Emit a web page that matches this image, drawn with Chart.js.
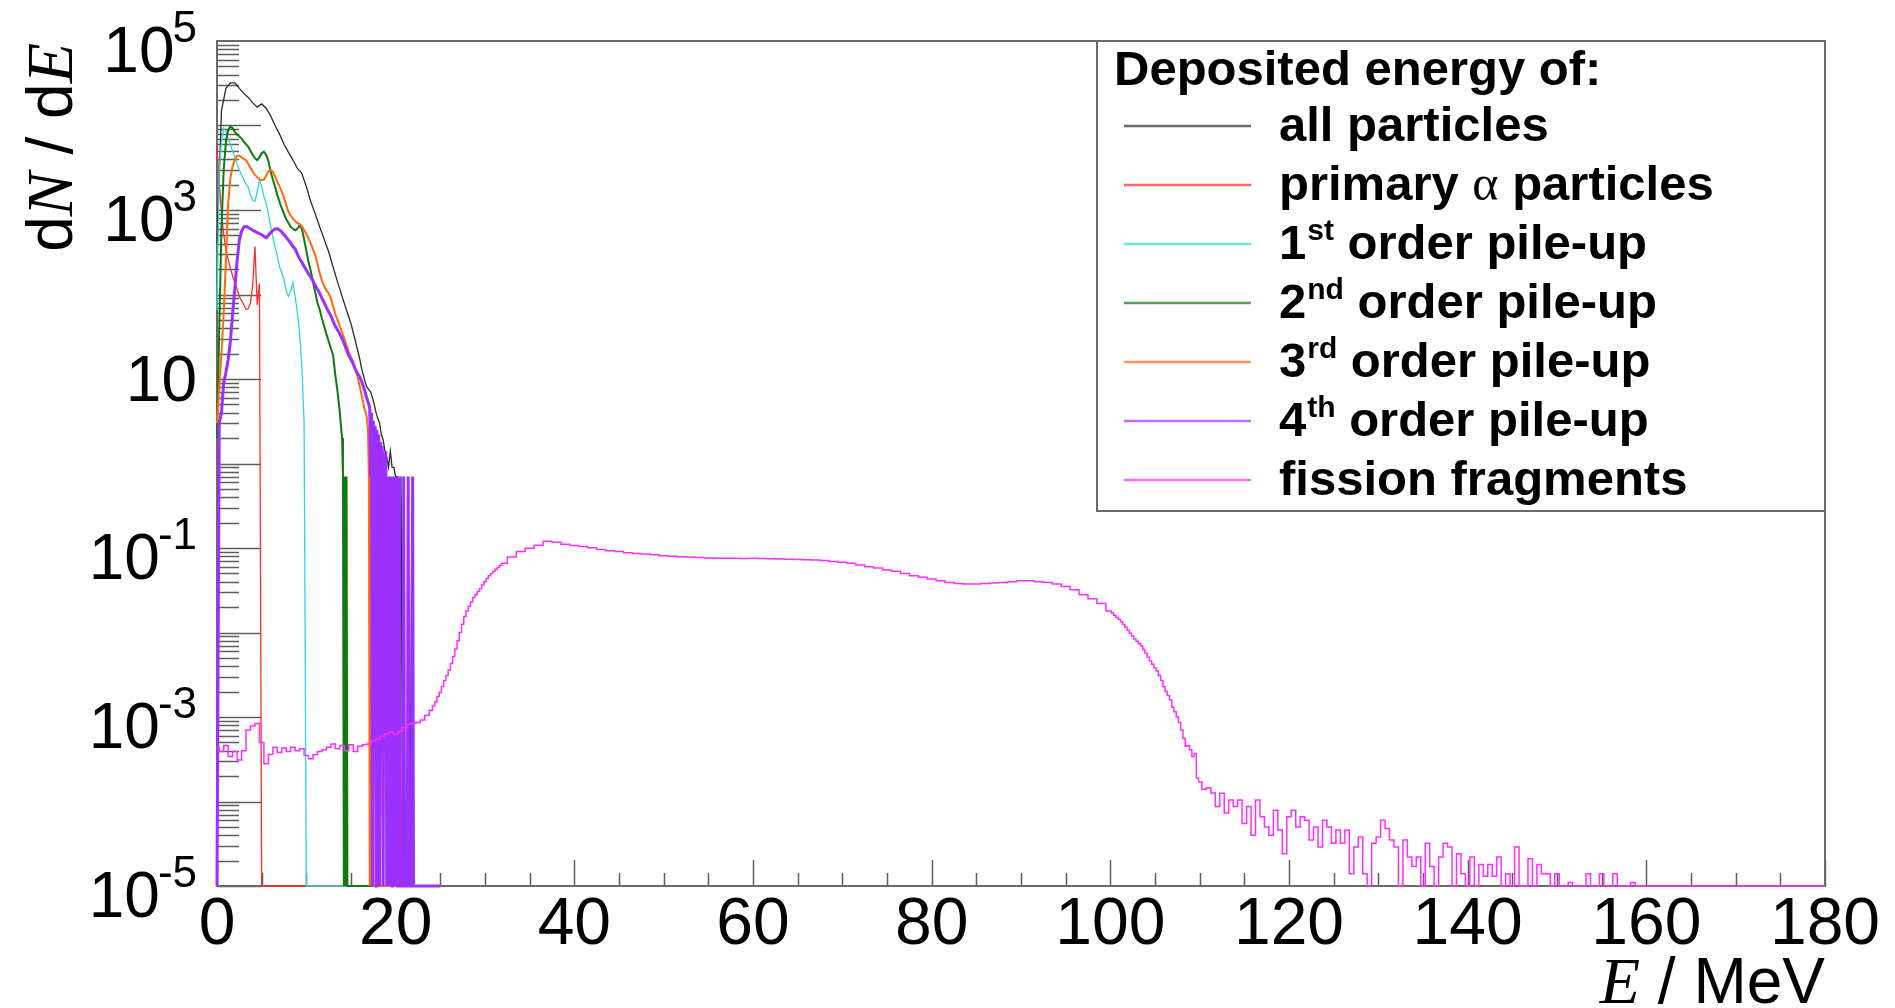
<!DOCTYPE html>
<html>
<head>
<meta charset="utf-8">
<script src="https://cdn.jsdelivr.net/npm/chart.js@4.4.1/dist/chart.umd.min.js"></script>
<style>
  html, body { margin: 0; padding: 0; background: #fff; }
  canvas { display: block; }
</style>
</head>
<body>
<canvas id="spectrum" width="1895" height="1008"></canvas>
<script>
const Y_MIN = 1e-5;
const Y_MAX = 1e5;
const E_MAX = 180;
const alphaRangeEnd = 25;   // MeV, upper end of the alpha histograms
const xTickStep = 20;
const xMinorStep = 5;
const yLabelPowers = [5, 3, 1, -1, -3, -5];

const seriesNames = [
  "all particles",
  "primary α particles",
  "1st order pile-up",
  "2nd order pile-up",
  "3rd order pile-up",
  "4th order pile-up",
  "fission fragments",
];
const seriesColors = ["#2b2b2b", "#ff2b2b", "#33d6d6", "#0f7a0f", "#ff6a10", "#9b30ff", "#ff2eff"];
const seriesWidths = [1.3, 1.3, 1.3, 2, 2, 3, 1.5];

// all particles: 0-16 MeV every 0.5 MeV, then 16.2-22.4 every 0.2 MeV
const allMain = [400, 15000, 27500, 32000, 32000, 27500, 24000, 21500, 18500, 16500,
  18000, 16000, 13000, 10000, 7900, 6000, 4800, 3900, 3100, 2700,
  1900, 1250, 900, 630, 450, 320, 210, 140, 95, 65, 45, 28, 17];
const allTail = [13, 11, 9, 8, 7.5, 7, 6, 5, 4, 3.4, 3.0, 2.2, 1.9, 1.4, 1.2, 0.9,
  1.4, 0.9, 0.9, 0.7, 0.7, 0, 0.7, 0, 0, 0, 0, 0, 0.2, 0, 0, 0];

// primary alphas: 0-5 MeV every 0.25 MeV
const alphaMain = [5600, 2200, 910, 520, 335, 260, 205, 165, 140, 115, 94,
  85, 75, 66, 68, 80, 130, 370, 75, 135, 0];

// 1st order pile-up: 0-10 MeV every 0.25 MeV
const pile1Main = [66, 3000, 6500, 9300, 8500, 7000, 5800, 5000, 4200, 3500,
  3000, 2600, 2300, 2050, 1850, 1500, 1300, 1260, 1650, 2260,
  1900, 1450, 1200, 900, 650, 480, 360, 290, 213, 180,
  150, 110, 95, 110, 138, 95, 60, 35, 14, 3, 0];

// 2nd order pile-up: 0-14 MeV every 0.25 MeV, then 14.1-14.7 every 0.1 MeV
const pile2Main = [2, 40, 600, 3000, 6500, 8800, 9800, 9300, 8400, 7800,
  7400, 7000, 6500, 6000, 5600, 5000, 4500, 4100, 3900, 4200,
  4700, 4900, 4500, 3800, 2900, 2300, 1900, 1500, 1250, 1050,
  900, 780, 700, 630, 600, 575, 600, 660, 600, 450,
  330, 240, 190, 140, 105, 80, 66, 52, 42, 34,
  28, 23, 19, 11, 7, 4, 2];
const pile2Tail = [0.7, 0, 0.7, 0, 0.7, 0, 0];

// 3rd order pile-up: 0-16.75 MeV every 0.25 MeV, then 16.9-17.6 every 0.1 MeV
const pile3Main = [3, 8, 20, 60, 250, 1200, 2400, 3300, 4000, 4400,
  4400, 4200, 4000, 3900, 3500, 3150, 2850, 2600, 2450, 2300,
  2250, 2300, 2550, 2850, 2970, 2850, 2500, 2150, 1900, 1650,
  1400, 1150, 950, 860, 790, 740, 700, 680, 640, 580,
  520, 460, 400, 340, 290, 230, 180, 145, 125, 112,
  103, 90, 72, 58, 50, 42, 36, 30, 25, 21,
  18, 16, 13, 10.5, 8, 6, 4.5, 3.6];
const pile3Tail = [2.5, 0.7, 0, 0.7, 0, 0.7, 0, 0];

// 4th order pile-up: 0-17 MeV every 0.25 MeV, then 17.1-22.2 every 0.1 MeV
const pile4Main = [0, 3, 4, 9, 12, 17, 28, 60, 120, 250,
  440, 560, 630, 640, 620, 600, 575, 560, 540, 526,
  510, 490, 470, 500, 540, 570, 595, 600, 580, 550,
  510, 475, 440, 405, 370, 345, 300, 265, 240, 215,
  195, 175, 160, 145, 128, 115, 103, 90, 80, 70,
  62, 56, 48, 42, 38, 34, 30, 26, 22, 19,
  17, 15, 13, 11.5, 10.5, 9, 7.5, 6, 5];
const pile4Tail = [4.5, 0.7, 4, 0, 3.2, 0.7, 2.8, 0, 2.5, 0.7,
  2.2, 0, 1.8, 0.7, 1.6, 0, 1.4, 0.7, 1.4, 0,
  0.7, 0, 0.7, 0, 0.7, 0, 0.7, 0, 0.7, 0,
  0.7, 0, 0, 0.7, 0, 0, 0, 0, 0.7, 0,
  0, 0, 0, 0.7, 0, 0, 0, 0, 0.7, 0, 0, 0];

// fission fragments
// 0-23.5 MeV every 0.5 MeV
const fissionLow = [4.3e-4, 3.9e-4, 4.6e-4, 3.4e-4, 3.9e-4, 3.1e-4, 4.0e-4, 7.0e-4, 7.8e-4, 8.4e-4,
  5.0e-4, 2.8e-4, 3.6e-4, 4.4e-4, 3.8e-4, 4.3e-4, 3.9e-4, 4.4e-4, 4.0e-4, 4.2e-4,
  3.5e-4, 3.2e-4, 3.6e-4, 3.9e-4, 4.1e-4, 4.4e-4, 4.8e-4, 4.2e-4, 4.6e-4, 4.0e-4,
  4.7e-4, 3.9e-4, 4.5e-4, 4.7e-4, 4.8e-4, 5.2e-4, 5.5e-4, 5.9e-4, 6.3e-4, 6.6e-4,
  6.2e-4, 6.8e-4, 7.5e-4, 8.2e-4, 8.4e-4, 8.6e-4, 9.2e-4, 1.05e-3];
// 24-31.75 MeV every 0.25 MeV
const fissionRise = [1.2e-3, 1.35e-3, 1.5e-3, 1.75e-3, 1.95e-3, 2.3e-3, 2.7e-3, 3.1e-3,
  3.6e-3, 4.3e-3, 5.2e-3, 6.4e-3, 8.0e-3, 1.0e-2, 1.25e-2, 1.55e-2,
  1.8e-2, 2.05e-2, 2.3e-2, 2.6e-2, 2.8e-2, 3.05e-2, 3.3e-2, 3.65e-2,
  4.0e-2, 4.35e-2, 4.7e-2, 5.0e-2, 5.3e-2, 5.6e-2, 5.9e-2, 6.25e-2];
// 32-99 MeV every 1 MeV
const fissionMid = [0.066, 0.078, 0.091, 0.099, 0.108, 0.12, 0.117, 0.111, 0.107, 0.104,
  0.101, 0.096, 0.093, 0.091, 0.088, 0.086, 0.085, 0.083, 0.081, 0.080,
  0.079, 0.078, 0.077, 0.076, 0.0755, 0.0755, 0.0755, 0.075, 0.0755, 0.075,
  0.0745, 0.074, 0.0735, 0.073, 0.0725, 0.072, 0.071, 0.069, 0.068, 0.066,
  0.063, 0.060, 0.058, 0.055, 0.053, 0.050, 0.047, 0.045, 0.043, 0.041,
  0.039, 0.038, 0.0375, 0.0375, 0.038, 0.0385, 0.039, 0.040, 0.041, 0.041,
  0.040, 0.039, 0.0375, 0.035, 0.032, 0.028, 0.025, 0.022];
// 100-109.75 MeV every 0.25 MeV
const fissionFall = [0.018, 0.017, 0.016, 0.015, 0.0143, 0.0134, 0.0124, 0.0115,
  0.0106, 0.0098, 0.0091, 0.0084, 0.0079, 0.0074, 0.0069, 0.0063,
  0.0057, 0.0051, 0.0046, 0.0042, 0.0038, 0.0035, 0.0031, 0.0027,
  0.0023, 0.0020, 0.0018, 0.0016, 0.0013, 0.00115, 0.0010, 8.6e-4,
  7.0e-4, 5.6e-4, 4.5e-4, 4.6e-4, 4.1e-4, 3.4e-4, 3.7e-4, 1.9e-4];
// 110-159.5 MeV every 0.5 MeV
const fissionTail = [1.7e-4, 1.4e-4, 1.45e-4, 1.26e-4, 8.7e-5, 1.25e-4, 7.3e-5, 1.04e-4, 8.7e-5, 1.04e-4,
  5.5e-5, 8.7e-5, 4.0e-5, 1.04e-4, 6.6e-5, 5.0e-5, 4.0e-5, 7.9e-5, 4.6e-5, 2.4e-5,
  6.6e-5, 7.9e-5, 5.0e-5, 6.6e-5, 6.0e-5, 3.5e-5, 5.0e-5, 2.9e-5, 6.0e-5, 5.0e-5,
  3.2e-5, 4.6e-5, 3.2e-5, 4.6e-5, 1.4e-5, 2.9e-5, 3.8e-5, 1.4e-5, 0, 3.2e-5,
  3.8e-5, 6.0e-5, 4.8e-5, 3.5e-5, 2.9e-5, 0, 3.5e-5, 2.2e-5, 1.7e-5, 2.2e-5,
  0, 3.2e-5, 1.7e-5, 0, 2.2e-5, 3.2e-5, 2.9e-5, 0, 2.4e-5, 1.4e-5,
  0, 2.2e-5, 0, 1.8e-5, 1.3e-5, 1.8e-5, 1.3e-5, 2.2e-5, 0, 1.4e-5,
  0, 2.9e-5, 0, 0, 2.1e-5, 0, 1.8e-5, 1.4e-5, 1.4e-5, 0,
  1.4e-5, 0, 0, 1.1e-5, 0, 0, 0, 1.4e-5, 0, 0,
  1.4e-5, 0, 0, 1.4e-5, 0, 0, 0, 1.1e-5, 0, 0];

// empty bins are drawn on the lower edge of the log axis, like ROOT does
function binned(start, step, counts) {
  return counts.map((n, i) => ({ x: +(start + i * step).toFixed(2), y: n > 0 ? n : Y_MIN }));
}
const emptyAt = (e) => ({ x: e, y: Y_MIN });

const seriesData = [
  [...binned(0, 0.5, allMain), ...binned(16.2, 0.2, allTail), emptyAt(alphaRangeEnd)],
  [...binned(0, 0.25, alphaMain), emptyAt(alphaRangeEnd)],
  [...binned(0, 0.25, pile1Main), emptyAt(alphaRangeEnd)],
  [...binned(0, 0.25, pile2Main), ...binned(14.1, 0.1, pile2Tail), emptyAt(alphaRangeEnd)],
  [...binned(0, 0.25, pile3Main), ...binned(16.9, 0.1, pile3Tail), emptyAt(alphaRangeEnd)],
  [...binned(0, 0.25, pile4Main), ...binned(17.1, 0.1, pile4Tail), emptyAt(alphaRangeEnd)],
  [...binned(0, 0.5, fissionLow), ...binned(24, 0.25, fissionRise), ...binned(32, 1, fissionMid),
   ...binned(100, 0.25, fissionFall), ...binned(110, 0.5, fissionTail), emptyAt(E_MAX)],
];

const FONT = '"Liberation Sans", Arial, sans-serif';
const SERIF = '"Liberation Serif", "Times New Roman", serif';
const TICK_FONT = `64px ${FONT}`;
const SUP_TICK_FONT = `44px ${FONT}`;
const TITLE_FONT = `64px ${FONT}`;
const TITLE_ITALIC = `italic 66px ${SERIF}`;
const LEGEND_FONT = `bold 49px ${FONT}`;
const LEGEND_SUP = `bold 30px ${FONT}`;
const GREEK_FONT = `50px ${SERIF}`;

function drawRuns(ctx, runs, x, y) {
  for (const [text, font] of runs) {
    ctx.font = font;
    ctx.fillText(text, x, y);
    x += ctx.measureText(text).width;
  }
}
function runsWidth(ctx, runs) {
  let w = 0;
  for (const [text, font] of runs) { ctx.font = font; w += ctx.measureText(text).width; }
  return w;
}

function drawLegendLabel(ctx, text, x, baseline) {
  const m = text.match(/^(\d)(st|nd|rd|th)(.*)$/);
  if (m) {
    ctx.font = LEGEND_FONT;
    ctx.fillText(m[1], x, baseline);
    x += ctx.measureText(m[1]).width + 1;
    ctx.font = LEGEND_SUP;
    ctx.fillText(m[2], x, baseline - 19);
    x += ctx.measureText(m[2]).width;
    ctx.font = LEGEND_FONT;
    ctx.fillText(m[3], x, baseline);
    return;
  }
  const runs = text.split(/(α)/).filter(Boolean).map(p => [p, p === "α" ? GREEK_FONT : LEGEND_FONT]);
  drawRuns(ctx, runs, x, baseline);
}

const rootStyle = {
  id: "rootStyle",
  beforeDatasetsDraw(chart) {
    const { ctx, chartArea: a, scales: { x, y } } = chart;
    ctx.save();
    ctx.strokeStyle = "#5e5e5e";
    ctx.lineWidth = 1.5;
    ctx.beginPath();
    for (let e = 0; e <= E_MAX; e += xMinorStep) {
      const px = Math.round(x.getPixelForValue(e)) + 0.5;
      const len = e % xTickStep === 0 ? 26 : 13;
      ctx.moveTo(px, a.bottom);
      ctx.lineTo(px, a.bottom - len);
    }
    for (let p = -5; p < 5; p++) {
      for (let k = 1; k <= 9; k++) {
        const py = Math.round(y.getPixelForValue(k * Math.pow(10, p))) + 0.5;
        const len = k === 1 ? 44 : 22;
        ctx.moveTo(a.left, py);
        ctx.lineTo(a.left + len, py);
      }
    }
    ctx.stroke();
    ctx.lineWidth = 2;
    ctx.strokeStyle = "#6a6a6a";
    ctx.strokeRect(a.left, a.top, a.right - a.left, a.bottom - a.top);
    ctx.restore();
  },
  afterDraw(chart) {
    const { ctx, chartArea: a, scales: { y } } = chart;
    ctx.save();
    ctx.fillStyle = "#000";
    ctx.textBaseline = "alphabetic";
    ctx.textAlign = "left";

    // y tick labels 10^n
    const labelRight = a.left - 20;
    for (const p of yLabelPowers) {
      const py = y.getPixelForValue(Math.pow(10, p));
      ctx.font = TICK_FONT;
      if (p === 1) {
        const w = ctx.measureText("10").width;
        ctx.fillText("10", labelRight - w, py + 22);
        continue;
      }
      const sup = p < 0 ? "-" + (-p) : String(p);
      ctx.font = SUP_TICK_FONT;
      const sw = ctx.measureText(sup).width;
      ctx.fillText(sup, labelRight - sw, py + 1);
      ctx.font = TICK_FONT;
      const w = ctx.measureText("10").width;
      ctx.fillText("10", labelRight - sw - w + 2, py + 31);
    }

    // axis titles
    const yTitle = [["d", TITLE_FONT], ["N", TITLE_ITALIC], [" / d", TITLE_FONT], ["E", TITLE_ITALIC]];
    ctx.save();
    ctx.translate(72, a.top + 2);
    ctx.rotate(-Math.PI / 2);
    drawRuns(ctx, yTitle, -runsWidth(ctx, yTitle), 0);
    ctx.restore();
    const xTitle = [["E", TITLE_ITALIC], [" / MeV", TITLE_FONT]];
    drawRuns(ctx, xTitle, a.right - runsWidth(ctx, xTitle), 1003);

    // legend box
    const box = { left: 1097, top: a.top, right: a.right, bottom: 511 };
    ctx.fillStyle = "#fff";
    ctx.fillRect(box.left, box.top, box.right - box.left, box.bottom - box.top);
    ctx.strokeStyle = "#6a6a6a";
    ctx.lineWidth = 2;
    ctx.strokeRect(box.left, box.top, box.right - box.left, box.bottom - box.top);
    ctx.fillStyle = "#000";
    ctx.font = LEGEND_FONT;
    ctx.fillText("Deposited energy of:", 1114, 85);
    chart.data.datasets.forEach((ds, i) => {
      const cy = 126 + i * 59;
      ctx.strokeStyle = ds.borderColor;
      ctx.globalAlpha = 0.7;
      ctx.lineWidth = 2.5;
      ctx.beginPath();
      ctx.moveTo(1124, cy);
      ctx.lineTo(1251, cy);
      ctx.stroke();
      ctx.globalAlpha = 1;
      drawLegendLabel(ctx, ds.label, 1279, cy + 15);
    });
    ctx.restore();
  },
};

const ctx = document.getElementById("spectrum");

new Chart(ctx, {
  type: "line",
  data: {
    datasets: seriesNames.map((name, i) => ({
      label: name,
      data: seriesData[i],
      borderColor: seriesColors[i],
      borderWidth: seriesWidths[i],
      pointRadius: 0,
      fill: false,
      tension: 0,
      stepped: i === 6 ? "middle" : false,
      order: seriesNames.length - i,
      clip: 3,
    })),
  },
  options: {
    responsive: false,
    devicePixelRatio: 1,
    animation: false,
    events: [],
    layout: { padding: { top: 41, right: 70, bottom: 0, left: 0 } },
    scales: {
      x: {
        type: "linear",
        min: 0,
        max: E_MAX,
        grid: { display: false, drawTicks: false },
        border: { display: false },
        ticks: {
          stepSize: xTickStep,
          autoSkip: false,
          maxRotation: 0,
          padding: 0,
          color: "#000",
          font: { family: FONT, size: 66 },
        },
        afterFit: (scale) => { scale.height = 122; },
      },
      y: {
        type: "logarithmic",
        min: Y_MIN,
        max: Y_MAX,
        grid: { display: false, drawTicks: false },
        border: { display: false },
        ticks: { display: false },
        afterFit: (scale) => { scale.width = 217; },
      },
    },
    plugins: {
      legend: { display: false },
      tooltip: { enabled: false },
    },
  },
  plugins: [rootStyle],
});
</script>
</body>
</html>
